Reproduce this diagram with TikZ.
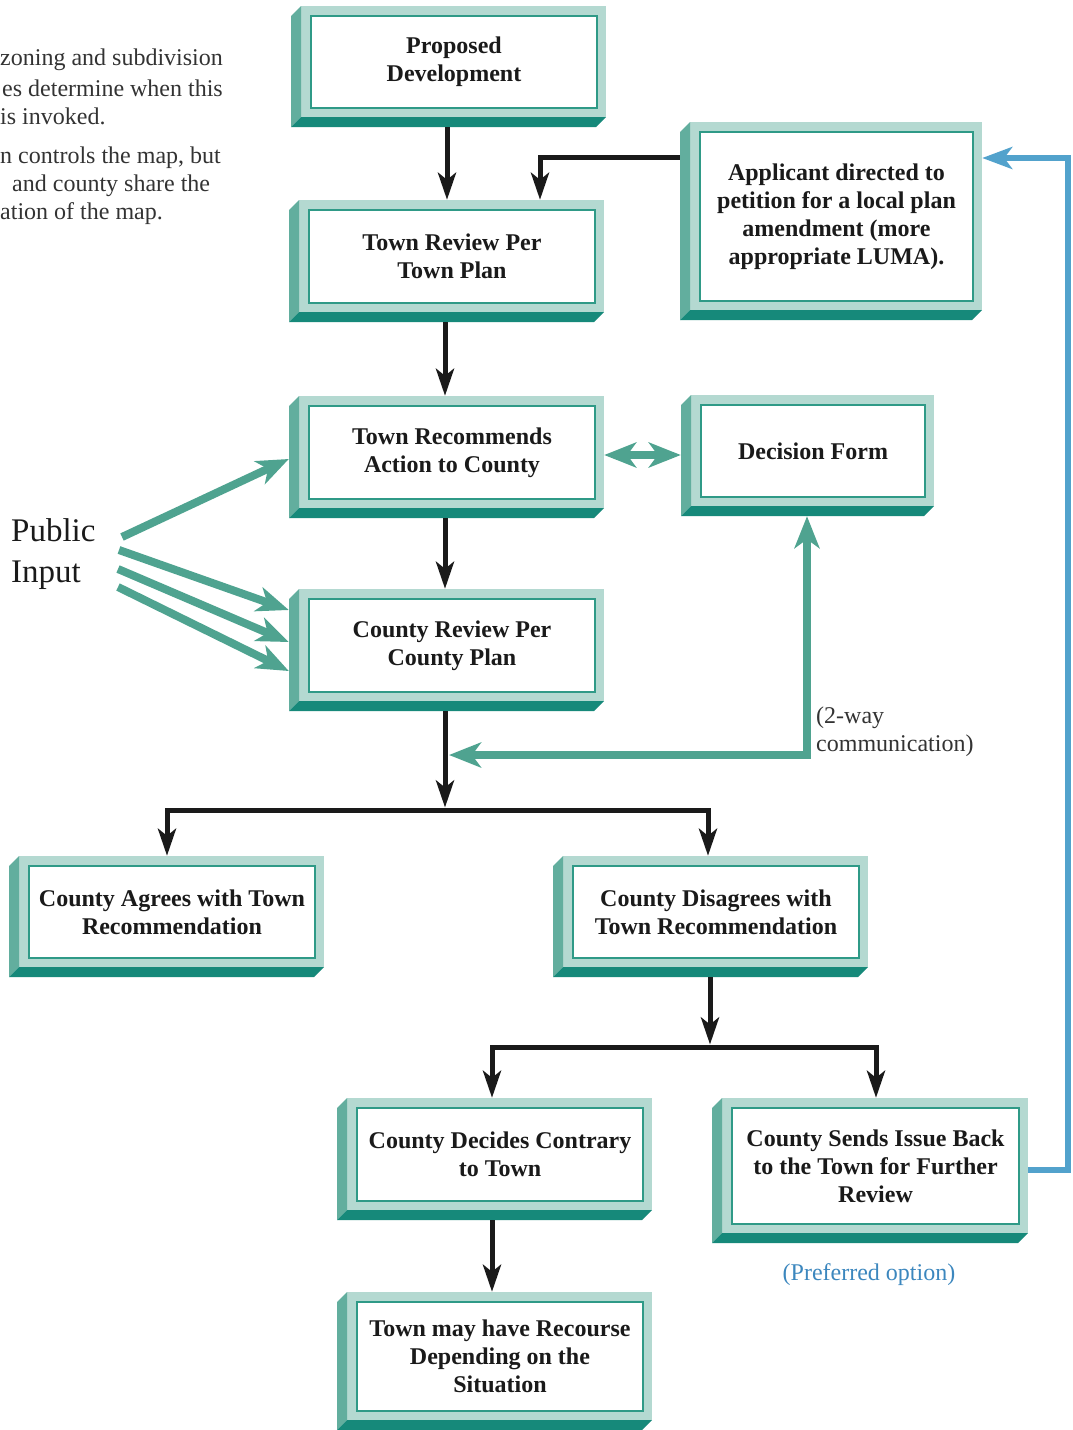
\documentclass[tikz,border=0pt]{standalone}
\usepackage{fontspec}
\setmainfont{Liberation Serif}
\usetikzlibrary{arrows.meta,fit,calc}
\definecolor{framec}{HTML}{B4D9D1}
\definecolor{leftc}{HTML}{62AE9E}
\definecolor{bottomc}{HTML}{16897A}
\definecolor{innerc}{HTML}{2F9A87}
\definecolor{tealc}{HTML}{4FA390}
\definecolor{bluec}{HTML}{52A2CC}
\definecolor{prefc}{HTML}{3C87BE}
\definecolor{inkc}{HTML}{1A1A1A}
\definecolor{notec}{HTML}{333333}
\tikzset{
  blktip/.tip={Stealth[length=27pt,width=18pt,inset=7pt]},
  teatip/.tip={Stealth[length=32pt,width=25pt,inset=9pt]},
  blutip/.tip={Stealth[length=30pt,width=22pt,inset=8pt]},
  boxtext/.style={font=\bfseries\fontsize{24}{28}\selectfont, align=center, text=inkc, inner sep=0pt},
  notetext/.style={font=\fontsize{24}{28}\selectfont, text=notec, anchor=west, inner sep=0pt},
  blkarrow/.style={line width=5pt, draw=inkc, -blktip},
  tealarrow/.style={line width=8pt, draw=tealc, -teatip},
  bluearrow/.style={line width=6pt, draw=bluec, -blutip},
}
\newcommand\flowbox[6]{%
  \fill[framec] ({#2+10},#3) rectangle (#4,{#5-10});
  \fill[leftc] ({#2+10},#3) -- (#2,{#3+10}) -- (#2,#5) -- ({#2+10},{#5-10}) -- cycle;
  \fill[bottomc] (#2,#5) -- ({#4-10},#5) -- (#4,{#5-10}) -- ({#2+10},{#5-10}) -- cycle;
  \draw[innerc, line width=2.5pt, fill=white] ({#2+20},{#3+10}) rectangle ({#4-9},{#5-19});
  \node[boxtext] at ({(#2+#4+11)/2},{(#3+#5-9)/2}) {#6};
  \node[fit={(#2,#3) (#4,#5)}, inner sep=0pt] (#1) {};
}
\begin{document}
\begin{tikzpicture}[x=1pt,y=-1pt]
\useasboundingbox (0,0) rectangle (1072,1430);
\clip (0,0) rectangle (1072,1430);

% notes at top left
\node[notetext] (n1) at (0,60) {zoning and subdivision};
\node[notetext] (n2) at (2,88) {es determine when this};
\node[notetext] (n3) at (0,116) {is invoked.};
\node[notetext] (n4) at (0,158) {n controls the map, but};
\node[notetext] (n5) at (12,186) {and county share the};
\node[notetext] (n6) at (0,214) {ation of the map.};

% boxes
\flowbox{pd}{291}{6}{606}{127}{Proposed\\Development}
\flowbox{trp}{289}{200}{604}{322}{Town Review Per\\Town Plan}
\flowbox{app}{680}{122}{982}{320}{Applicant directed to\\petition for a local plan\\amendment (more\\appropriate LUMA).}
\flowbox{trac}{289}{396}{604}{518}{Town Recommends\\Action to County}
\flowbox{df}{681}{395}{934}{516}{Decision Form}
\flowbox{crp}{289}{589}{604}{711}{County Review Per\\County Plan}
\flowbox{cat}{9}{856}{324}{977}{County Agrees with Town\\Recommendation}
\flowbox{cdt}{553}{856}{868}{977}{County Disagrees with\\Town Recommendation}
\flowbox{cdc}{337}{1098}{652}{1220}{County Decides Contrary\\to Town}
\flowbox{csb}{712}{1098}{1028}{1243}{County Sends Issue Back\\to the Town for Further\\Review}
\flowbox{tmr}{337}{1292}{652}{1430}{Town may have Recourse\\Depending on the\\Situation}

% other labels
\node[font=\fontsize{33}{41}\selectfont, align=left, text=inkc, anchor=west, inner sep=0pt] (pub) at (11,554) {Public\\Input};
\node[font=\fontsize{24}{28}\selectfont, align=left, text=notec, anchor=west, inner sep=0pt] (comm) at (816,732) {(2-way\\communication)};
\node[font=\fontsize{24}{28}\selectfont, text=prefc, inner sep=0pt] (pref) at (869,1275) {(Preferred option)};

% coordinates
\coordinate (j1) at (445,810);
\coordinate (j2) at (710,1047);
\coordinate (c2l) at (449,755);
\coordinate (bcorner) at (1068,1170);
\coordinate (p1) at (122,537);
\coordinate (p2) at (119,550);
\coordinate (p3) at (118,569);
\coordinate (p4) at (118,587);

% black flow
\draw[blkarrow] (pd.south -| 447,0) -- (447,0 |- trp.north);
\draw[blkarrow] (app.west |- 0,157) -| (540,0 |- trp.north);
\draw[blkarrow] (trp.south -| 445,0) -- (445,0 |- trac.north);
\draw[blkarrow] (trac.south -| 445,0) -- (445,0 |- crp.north);
\draw[blkarrow] (crp.south -| j1) -- ([yshift=2.5pt]j1);
\draw[blkarrow] (j1) -| (167,0 |- cat.north);
\draw[blkarrow] (j1) -| (708,0 |- cdt.north);
\draw[blkarrow] (cdt.south -| j2) -- ([yshift=2.5pt]j2);
\draw[blkarrow] (j2) -| (492,0 |- cdc.north);
\draw[blkarrow] (j2) -| (876,0 |- csb.north);
\draw[blkarrow] (492,0 |- cdc.south) -- (492,0 |- tmr.north);

% teal
\draw[tealarrow, teatip-teatip] (trac.east |- 0,455) -- (df.west |- 0,455);
\draw[tealarrow, teatip-teatip] (c2l) -| (807,0 |- df.south);
\draw[tealarrow] (p1) -- (trac.west |- 0,459);
\draw[tealarrow] (p2) -- (crp.west |- 0,610);
\draw[tealarrow] (p3) -- (crp.west |- 0,642);
\draw[tealarrow] (p4) -- (crp.west |- 0,671);

% blue
\draw[bluearrow] (csb.east |- bcorner) -- (bcorner) |- (app.east |- 0,158);
\end{tikzpicture}
\end{document}
